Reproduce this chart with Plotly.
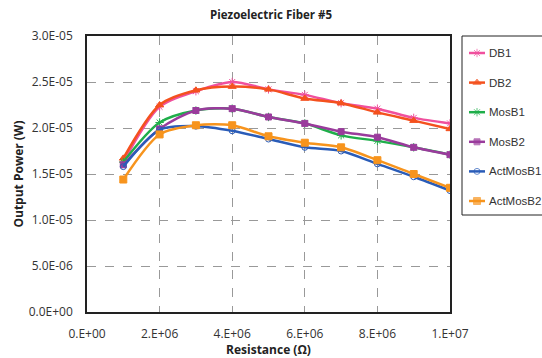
import plotly.graph_objects as go

resistance = [1e6, 2e6, 3e6, 4e6, 5e6, 6e6, 7e6, 8e6, 9e6, 1e7]
db1 = [1.63e-5, 2.23e-5, 2.40e-5, 2.50e-5, 2.42e-5, 2.36e-5, 2.27e-5, 2.21e-5, 2.11e-5, 2.05e-5]
db2 = [1.67e-5, 2.25e-5, 2.41e-5, 2.45e-5, 2.42e-5, 2.32e-5, 2.27e-5, 2.17e-5, 2.08e-5, 1.99e-5]
mosb1 = [1.63e-5, 2.06e-5, 2.19e-5, 2.21e-5, 2.12e-5, 2.05e-5, 1.92e-5, 1.86e-5, 1.79e-5, 1.71e-5]
mosb2 = [1.60e-5, 1.99e-5, 2.19e-5, 2.21e-5, 2.12e-5, 2.05e-5, 1.96e-5, 1.90e-5, 1.79e-5, 1.71e-5]
actmosb1 = [1.58e-5, 1.98e-5, 2.02e-5, 1.97e-5, 1.88e-5, 1.79e-5, 1.75e-5, 1.61e-5, 1.47e-5, 1.32e-5]
actmosb2 = [1.44e-5, 1.93e-5, 2.03e-5, 2.03e-5, 1.91e-5, 1.84e-5, 1.79e-5, 1.65e-5, 1.50e-5, 1.35e-5]

series_names = ["DB1", "DB2", "MosB1", "MosB2", "ActMosB1", "ActMosB2"]
series_values = [db1, db2, mosb1, mosb2, actmosb1, actmosb2]

y_ticks = [0, 5e-6, 1e-5, 1.5e-5, 2e-5, 2.5e-5, 3e-5]
y_tick_text = ["0.0E+00", "5.0E-06", "1.0E-05", "1.5E-05", "2.0E-05", "2.5E-05", "3.0E-05"]
x_ticks = [0, 2e6, 4e6, 6e6, 8e6, 1e7]
x_tick_text = ["0.E+00", "2.E+06", "4.E+06", "6.E+06", "8.E+06", "1.E+07"]

# styles
colors = ["#F0509E", "#F4511E", "#1FAE4A", "#9A3B9C", "#2A5CB8", "#F7941D"]
symbols = ["asterisk-open", "triangle-up", "asterisk-open", "square", "circle-open", "square"]
sizes = [7, 7, 7, 6, 6, 7]

W, H = 542, 358
PL, PR, PT, PB = 87, 450, 36, 312  # plot area in pixels
font = "Open Sans, Liberation Sans, sans-serif"

fig = go.Figure()
for name, vals, color, sym, size in zip(series_names, series_values, colors, symbols, sizes):
    fig.add_trace(go.Scatter(
        x=resistance, y=vals, name=name, mode="lines+markers",
        line=dict(color=color, width=2.5, shape="spline", smoothing=0.8),
        marker=dict(color=color, symbol=sym, size=size, line=dict(color=color, width=1)),
        showlegend=False,
    ))

# custom legend (pixel coordinate overlay axes)
LEG_L, LEG_T, LEG_B = 462, 36, 215
row0, step = 53, 29.6
annotations = []
for i, (name, color, sym, size) in enumerate(zip(series_names, colors, symbols, sizes)):
    ry = row0 + i * step
    fig.add_trace(go.Scatter(
        x=[LEG_L + 7, LEG_L + 15, LEG_L + 23], y=[ry, ry, ry],
        xaxis="x2", yaxis="y2", mode="lines+markers",
        line=dict(color=color, width=2.5),
        marker=dict(color=color, symbol=sym, size=[0, size, 0], line=dict(color=color, width=1)),
        showlegend=False, hoverinfo="skip",
    ))
    annotations.append(dict(
        x=(LEG_L + 25) / W, y=1 - ry / H, xref="paper", yref="paper",
        text=name, showarrow=False, xanchor="left", yanchor="middle",
        font=dict(family="Liberation Sans, Arial, sans-serif", size=11.5, color="#333"),
    ))

fig.add_shape(type="rect", xref="paper", yref="paper",
              x0=LEG_L / W, x1=(W + 5) / W, y0=1 - LEG_B / H, y1=1 - LEG_T / H,
              line=dict(color="#222", width=1), fillcolor="rgba(0,0,0,0)", layer="above")

fig.update_layout(
    width=W, height=H,
    margin=dict(l=0, r=0, t=0, b=0, autoexpand=False),
    paper_bgcolor="white", plot_bgcolor="rgba(0,0,0,0)",
    font=dict(family=font, size=12, color="#333"),
    title=dict(text="<b>Piezoelectric Fiber #5</b>", x=0.5, xanchor="center",
               y=1 - 15/H, yanchor="middle", font=dict(size=11.5, color="#222")),
    showlegend=False,
    annotations=annotations,
    xaxis=dict(
        domain=[PL / W, PR / W],
        range=[0, 1e7], tickvals=x_ticks, ticktext=x_tick_text,
        showgrid=True, gridcolor="#999", griddash="dash", gridwidth=1,
        showline=True, linecolor="#222", linewidth=1.5, mirror=True,
        ticks="", zeroline=False, automargin=False, ticklabelstandoff=10,
        title=dict(text="<b>Resistance (Ω)</b>", font=dict(size=12, color="#222"), standoff=4),
    ),
    yaxis=dict(
        domain=[1 - PB / H, 1 - PT / H],
        range=[0, 3e-5], tickvals=y_ticks, ticktext=y_tick_text,
        showgrid=True, gridcolor="#999", griddash="dash", gridwidth=1,
        showline=True, linecolor="#222", linewidth=1.5, mirror=True,
        ticks="", zeroline=False, automargin=False, ticklabelstandoff=10,
        title=dict(text="<b>Output Power (W)</b>", font=dict(size=12, color="#222"), standoff=3),
    ),
    xaxis2=dict(domain=[0, 1], range=[0, W], visible=False, anchor="y2", fixedrange=True),
    yaxis2=dict(domain=[0, 1], range=[H, 0], visible=False, anchor="x2", fixedrange=True),
)
fig.write_html("out.html", config={"displayModeBar": False},
               post_script="document.body.style.margin='0';document.body.style.overflow='hidden';")
